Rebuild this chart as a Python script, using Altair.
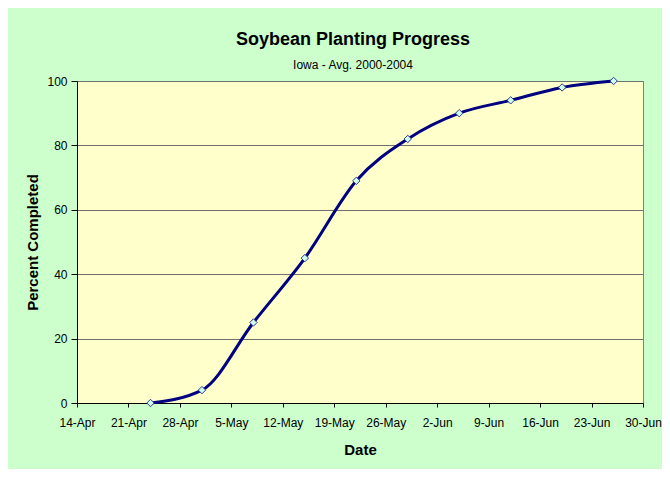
import altair as alt
import pandas as pd

# Data
dates = ["2004-04-24", "2004-05-01", "2004-05-08", "2004-05-15", "2004-05-22",
         "2004-05-29", "2004-06-05", "2004-06-12", "2004-06-19", "2004-06-26"]
pct = [0, 4, 25, 45, 69, 82, 90, 94, 98, 100]

tick_days = [(4, 14), (4, 21), (4, 28), (5, 5), (5, 12), (5, 19), (5, 26),
             (6, 2), (6, 9), (6, 16), (6, 23), (6, 30)]
y_ticks = [0, 20, 40, 60, 80, 100]

df = pd.DataFrame({"date": dates, "pct": pct})

FONT = "Liberation Sans"

tick_values = [alt.DateTime(year=2004, month=m, date=d, utc=True) for m, d in tick_days]

x_enc = alt.X(
    "date:T",
    scale=alt.Scale(type="utc", domain=[tick_values[0], tick_values[-1]]),
    axis=alt.Axis(
        values=tick_values, format="%-d-%b", title="Date", grid=False,
        tickSize=4, labelPadding=10, titlePadding=14, labelFlush=False,
        labelOverlap=False,
    ),
)
y_enc = alt.Y(
    "pct:Q",
    scale=alt.Scale(domain=[0, 100]),
    axis=alt.Axis(
        values=y_ticks, title="Percent Completed", grid=True,
        tickSize=6, labelPadding=4, titlePadding=6,
    ),
)

line = alt.Chart().mark_line(
    color="#000080", strokeWidth=3, interpolate="monotone"
).encode(x=x_enc, y=y_enc)

points = alt.Chart().mark_point(
    shape="diamond", filled=True, fill="#CCFFEE", stroke="#333399",
    strokeWidth=1, size=55, opacity=1
).encode(x=x_enc, y=y_enc)

chart = alt.layer(line, points, data=df).properties(
    width=566,
    height=322,
    background="#CCFFCC",
    autosize=alt.AutoSizeParams(type="none"),
    padding={"left": 69, "top": 73, "right": 19, "bottom": 66},
    title=alt.TitleParams(
        text="Soybean Planting Progress",
        subtitle="Iowa - Avg. 2000-2004",
        font=FONT, fontSize=18, fontWeight="bold", color="#000000",
        subtitleFont=FONT, subtitleFontSize=12, subtitleColor="#000000",
        subtitlePadding=11, offset=4, anchor="middle", dx=-7,
    ),
).configure_view(
    fill="#FFFFCC", stroke="#808080", strokeWidth=1
).configure_axis(
    labelFont=FONT, labelFontSize=12, labelColor="#000000",
    titleFont=FONT, titleFontSize=15, titleFontWeight="bold", titleColor="#000000",
    domainColor="#000000", tickColor="#000000", domainWidth=1, tickWidth=1,
    gridColor="#707070", gridWidth=1,
)

chart.save("out.html", embed_options={"renderer": "svg", "actions": False})
